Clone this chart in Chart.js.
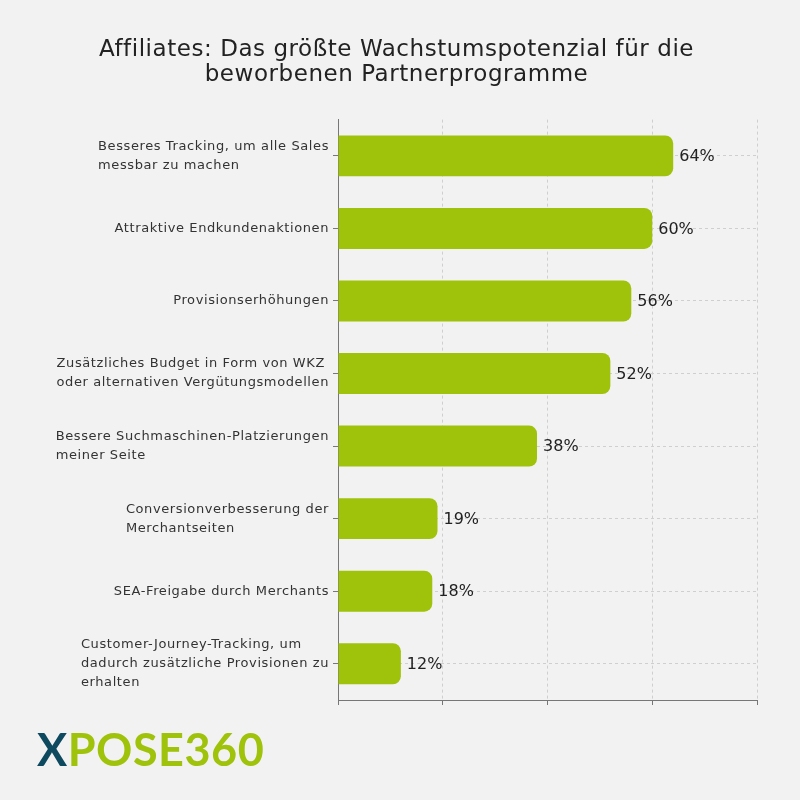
<!DOCTYPE html>
<html lang="de">
<head>
  <meta charset="UTF-8">
  <title>Affiliates: Wachstumspotenzial</title>
  <script src="https://cdn.jsdelivr.net/npm/chart.js"></script>
  <style>
    body {
      margin: 0;
      padding: 0;
      background-color: #f2f2f2;
      font-family: 'DejaVu Sans', sans-serif;
    }
    .wrap {
      position: relative;
      width: 800px;
      height: 800px;
    }
    .logo {
      position: absolute;
      left: 37px;
      top: 722px;
      font-family: 'Lato', sans-serif;
      font-weight: 700;
      font-size: 45px;
      line-height: 54px;
      color: #9fc20a;
      letter-spacing: 0.5px;
    }
    .logo .x { color: #0e4a5f; }
  </style>
</head>
<body>
  <div class="wrap">
    <canvas id="chart" width="800" height="800"></canvas>
    <div class="logo"><span class="x">X</span>POSE360</div>
  </div>

  <script>
    const categories = [
      ['Besseres Tracking, um alle Sales', 'messbar zu machen'],
      ['Attraktive Endkundenaktionen'],
      ['Provisionserhöhungen'],
      ['Zusätzliches Budget in Form von WKZ', 'oder alternativen Vergütungsmodellen'],
      ['Bessere Suchmaschinen-Platzierungen', 'meiner Seite'],
      ['Conversionverbesserung der', 'Merchantseiten'],
      ['SEA-Freigabe durch Merchants'],
      ['Customer-Journey-Tracking, um', 'dadurch zusätzliche Provisionen zu', 'erhalten']
    ];
    const values = [64, 60, 56, 52, 38, 19, 18, 12];
    const xTicks = [0, 20, 40, 60, 80];

    const labelFont = "13px 'DejaVu Sans', sans-serif";
    const valueFont = "16px 'DejaVu Sans', sans-serif";

    // breitere Laufweite für den Titel
    const spacing = {
      id: 'spacing',
      beforeDraw(chart) { chart.ctx.letterSpacing = '0.55px'; }
    };

    // y-Labels: Zeilen linksbündig, Block rechtsbündig an der Achse
    const categoryLabels = {
      id: 'categoryLabels',
      afterDraw(chart) {
        const ctx = chart.ctx;
        const scale = chart.scales.y;
        ctx.save();
        ctx.letterSpacing = '0.6px';
        ctx.font = labelFont;
        ctx.fillStyle = '#333';
        ctx.textAlign = 'left';
        ctx.textBaseline = 'middle';
        categories.forEach((lines, i) => {
          const yc = scale.getPixelForTick(i);
          const w = Math.max(...lines.map(l => ctx.measureText(l).width));
          const x = scale.right - 5 - 4 - w;
          lines.forEach((l, j) => {
            ctx.fillText(l, x, yc + (j - (lines.length - 1) / 2) * 19);
          });
        });
        ctx.restore();
      }
    };

    // Prozentwerte rechts neben den Balken
    const valueLabels = {
      id: 'valueLabels',
      afterDatasetsDraw(chart) {
        const ctx = chart.ctx;
        const meta = chart.getDatasetMeta(0);
        ctx.save();
        ctx.letterSpacing = '0px';
        ctx.font = valueFont;
        ctx.fillStyle = '#222';
        ctx.textAlign = 'left';
        ctx.textBaseline = 'middle';
        meta.data.forEach((bar, i) => {
          ctx.fillText(values[i] + '%', bar.x + 6, bar.y + 1);
        });
        ctx.restore();
      }
    };

    const gridDash = c => c.type === 'tick' ? [3, 3] : [];

    new Chart(document.getElementById('chart').getContext('2d'), {
      type: 'bar',
      data: {
        labels: categories,
        datasets: [{
          data: values,
          backgroundColor: '#9fc20a',
          borderRadius: 8,
          borderSkipped: 'start',
          barPercentage: 0.565,
          categoryPercentage: 1
        }]
      },
      options: {
        indexAxis: 'y',
        responsive: false,
        animation: false,
        layout: { padding: { top: 0, right: 43, bottom: 80, left: 36 } },
        plugins: {
          legend: { display: false },
          tooltip: { enabled: false },
          title: {
            display: true,
            text: ['Affiliates: Das größte Wachstumspotenzial für die', 'beworbenen Partnerprogramme'],
            color: '#222',
            font: { family: "'DejaVu Sans', sans-serif", size: 23, weight: '400', lineHeight: 1.1 },
            padding: { top: 37, bottom: 32 }
          }
        },
        scales: {
          x: {
            min: 0,
            max: 80,
            afterBuildTicks: s => { s.ticks = xTicks.map(v => ({ value: v })); },
            afterFit: s => { s.height = 20; },
            ticks: { callback: () => '' },
            border: { display: true, color: '#777', width: 1, dash: gridDash },
            grid: {
              color: '#cfcfcf',
              tickLength: 5,
              tickColor: '#777',
              tickBorderDash: []
            }
          },
          y: {
            afterFit: s => { s.width = 302; },
            ticks: { display: false },
            border: { display: true, color: '#777', width: 1, dash: gridDash },
            grid: {
              offset: false,
              color: '#cfcfcf',
              tickLength: 5,
              tickColor: '#777',
              tickBorderDash: []
            }
          }
        }
      },
      plugins: [spacing, categoryLabels, valueLabels]
    });
  </script>
</body>
</html>
